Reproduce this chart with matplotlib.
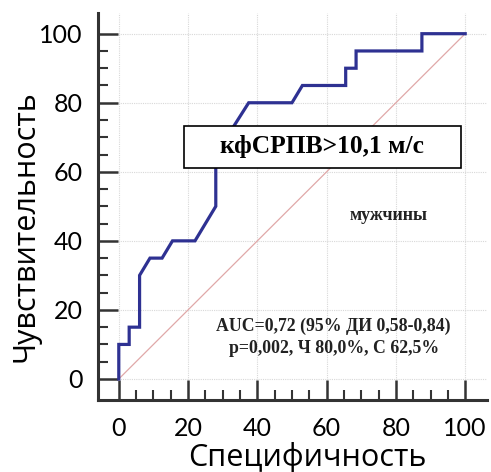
import matplotlib
matplotlib.use("Agg")
import matplotlib.pyplot as plt
from matplotlib.ticker import FixedLocator
from matplotlib.patches import Rectangle

# ROC curve points (100 - specificity, sensitivity)
fpr = [0, 0, 3, 3, 6, 6, 9, 12.5, 15.5, 22, 28, 28, 37.5, 50, 53, 65.5, 65.5, 68.5, 68.5, 87.5, 87.5, 100]
tpr = [0, 10, 10, 15, 15, 30, 35, 35, 40, 40, 50, 65, 80, 80, 85, 85, 90, 90, 95, 95, 100, 100]
ref_x = [0, 100]
ref_y = [0, 100]
major_ticks = [0, 20, 40, 60, 80, 100]
minor_ticks = [v for v in range(5, 100, 5) if v % 20 != 0]

title_box = "кфСРПВ>10,1 м/с"
group_label = "мужчины"
stats_text = "AUC=0,72 (95% ДИ 0,58-0,84)\np=0,002, Ч 80,0%, С 62,5%"
xlabel = "Специфичность"
ylabel = "Чувствительность"

fig = plt.figure(figsize=(4.91, 4.72), dpi=100)
ax = fig.add_axes([0.1996, 0.1525, 0.7923, 0.82])

ax.plot(ref_x, ref_y, color="#e0a8a8", lw=0.9, zorder=2)
ax.plot(fpr, tpr, color="#2e3192", lw=2.3, zorder=3, solid_joinstyle="miter")

ax.set_xlim(-6, 106.3)
ax.set_ylim(-6.1, 106)

for s in ["top", "right"]:
    ax.spines[s].set_visible(False)
for s in ["left", "bottom"]:
    ax.spines[s].set_linewidth(2.2)
    ax.spines[s].set_color("#333333")

ax.xaxis.set_major_locator(FixedLocator(major_ticks))
ax.yaxis.set_major_locator(FixedLocator(major_ticks))
ax.xaxis.set_minor_locator(FixedLocator(minor_ticks))
ax.yaxis.set_minor_locator(FixedLocator(minor_ticks))

ax.tick_params(which="major", direction="in", length=14.5, width=1.8, color="#333333",
               labelsize=18, pad=12)
ax.tick_params(which="minor", direction="in", length=7, width=1.5, color="#333333")
ax.tick_params(axis="y", pad=11)
for lab in ax.get_xticklabels() + ax.get_yticklabels():
    lab.set_family("Lato")

ax.grid(True, which="major", color="#d8d8d8", lw=0.8, linestyle=(0, (1, 1)), zorder=0)

ax.set_xlabel(xlabel, fontsize=22, family="Open Sans")
ax.set_ylabel(ylabel, fontsize=22, family="Open Sans")
ax.xaxis.label.set_va("baseline")
ax.yaxis.label.set_va("baseline")
ax.xaxis.set_label_coords(0.537, -0.17)
ax.yaxis.set_label_coords(-0.165, 0.45)

ax.add_patch(Rectangle((18.7, 61.0), 80.1, 12.4, fc="white", ec="black", lw=1.2, zorder=5))
ax.text(58.8, 67.2, title_box, ha="center", va="center", fontsize=18.4, fontweight="bold",
        family="Liberation Serif", zorder=6)
ax.text(77.8, 47.4, group_label, ha="center", va="center", fontsize=13, fontweight="bold",
        family="Liberation Serif", color="#222222")
ax.text(62, 12, stats_text, ha="center", va="center", fontsize=12.8, fontweight="bold",
        family="Liberation Serif", color="#222222", linespacing=1.4)

fig.savefig("out.png", dpi=100)
